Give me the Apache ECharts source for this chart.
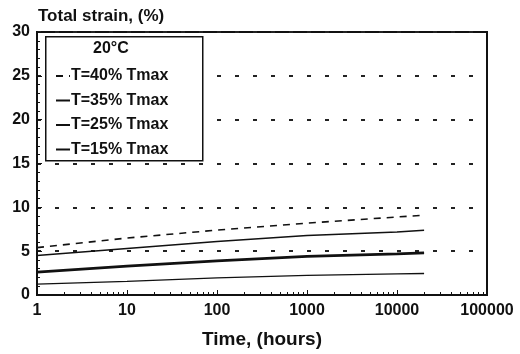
<!DOCTYPE html>
<html>
<head>
<meta charset="utf-8">
<script src="https://cdn.jsdelivr.net/npm/echarts@6/dist/echarts.min.js"></script>
<style>
html,body{margin:0;padding:0;background:#fff;}
#chart{width:520px;height:354px;}
</style>
</head>
<body>
<div id="chart"></div>
<script>
// time in hours (log axis)
var hours = [1, 10, 100, 1000, 10000, 20000];
var t40 = [5.4, 6.5, 7.4, 8.2, 8.9, 9.1];
var t35 = [4.5, 5.3, 6.1, 6.8, 7.2, 7.4];
var t25 = [2.6, 3.3, 3.9, 4.4, 4.7, 4.8];
var t15 = [1.25, 1.55, 1.95, 2.25, 2.4, 2.45];
var names = ['T=40% Tmax', 'T=35% Tmax', 'T=25% Tmax', 'T=15% Tmax'];

function pairs(ys){
    return hours.map(function(h, i){ return [h, ys[i]]; });
}

var font = 'Liberation Sans, Arial, sans-serif';
var myChart = echarts.init(document.getElementById('chart'));
var option = {
    backgroundColor: '#fff',
    animation: false,
    grid: {
        left: 37, right: 33, top: 32, bottom: 56,
        show: true,
        borderColor: '#111',
        borderWidth: 2
    },
    graphic: [
        {
            type: 'rect', left: 45, top: 36, z: 3,
            shape: {width: 157, height: 124},
            style: {fill: '#fff', stroke: '#111', lineWidth: 1.5}
        },
        {
            type: 'text', left: 93, top: 41, z: 5,
            style: {text: '20°C', font: 'bold 16px ' + font, fill: '#111'}
        }
    ],
    title: {
        text: 'Total strain, (%)',
        left: 38, top: 8,
        padding: 0,
        textStyle: {fontFamily: font, fontSize: 17, fontWeight: 'bold', color: '#111'}
    },
    legend: {
        data: names,
        orient: 'vertical',
        left: 50, top: 63,
        z: 6,
        itemGap: 8.5,
        itemWidth: 14,
        itemHeight: 14,
        itemStyle: {color: 'rgba(0,0,0,0)', borderWidth: 0},
        textStyle: {fontFamily: font, fontSize: 16, fontWeight: 'bold', color: '#111', padding: [0, 0, 0, -4]}
    },
    xAxis: {
        type: 'log',
        logBase: 10,
        min: 1,
        max: 100000,
        name: 'Time, (hours)',
        nameLocation: 'middle',
        nameGap: 35,
        nameTextStyle: {fontFamily: font, fontSize: 19, fontWeight: 'bold', color: '#111'},
        axisLine: {lineStyle: {color: '#111', width: 2}},
        axisTick: {inside: true, length: 5, lineStyle: {color: '#111'}},
        minorTick: {show: true, splitNumber: 9, length: 3, lineStyle: {color: '#111'}},
        axisLabel: {
            fontFamily: font, fontSize: 16, fontWeight: 'bold', color: '#111', margin: 8,
            formatter: function(v){ return String(Math.round(v)); }
        },
        splitLine: {show: false}
    },
    yAxis: {
        type: 'value',
        min: 0, max: 30, interval: 5,
        axisLine: {show: true, lineStyle: {color: '#111', width: 2}},
        axisTick: {show: true, inside: true, length: 5, lineStyle: {color: '#111'}},
        minorTick: {show: true, splitNumber: 5, length: 3, lineStyle: {color: '#111'}},
        axisLabel: {fontFamily: font, fontSize: 16, fontWeight: 'bold', color: '#111', margin: 7},
        splitLine: {show: true, lineStyle: {color: '#222', type: [4, 14], width: 2}}
    },
    series: [
        {name: names[0], type: 'line', symbol: 'none', data: pairs(t40),
         lineStyle: {color: '#111', width: 1.6, type: [7, 6]}, itemStyle: {color: '#111'}},
        {name: names[1], type: 'line', symbol: 'none', data: pairs(t35),
         lineStyle: {color: '#111', width: 1.5}, itemStyle: {color: '#111'}},
        {name: names[2], type: 'line', symbol: 'none', data: pairs(t25),
         lineStyle: {color: '#111', width: 2.8}, itemStyle: {color: '#111'}},
        {name: names[3], type: 'line', symbol: 'none', data: pairs(t15),
         lineStyle: {color: '#111', width: 1.3}, itemStyle: {color: '#111'}}
    ]
};
myChart.setOption(option);
</script>
</body>
</html>
